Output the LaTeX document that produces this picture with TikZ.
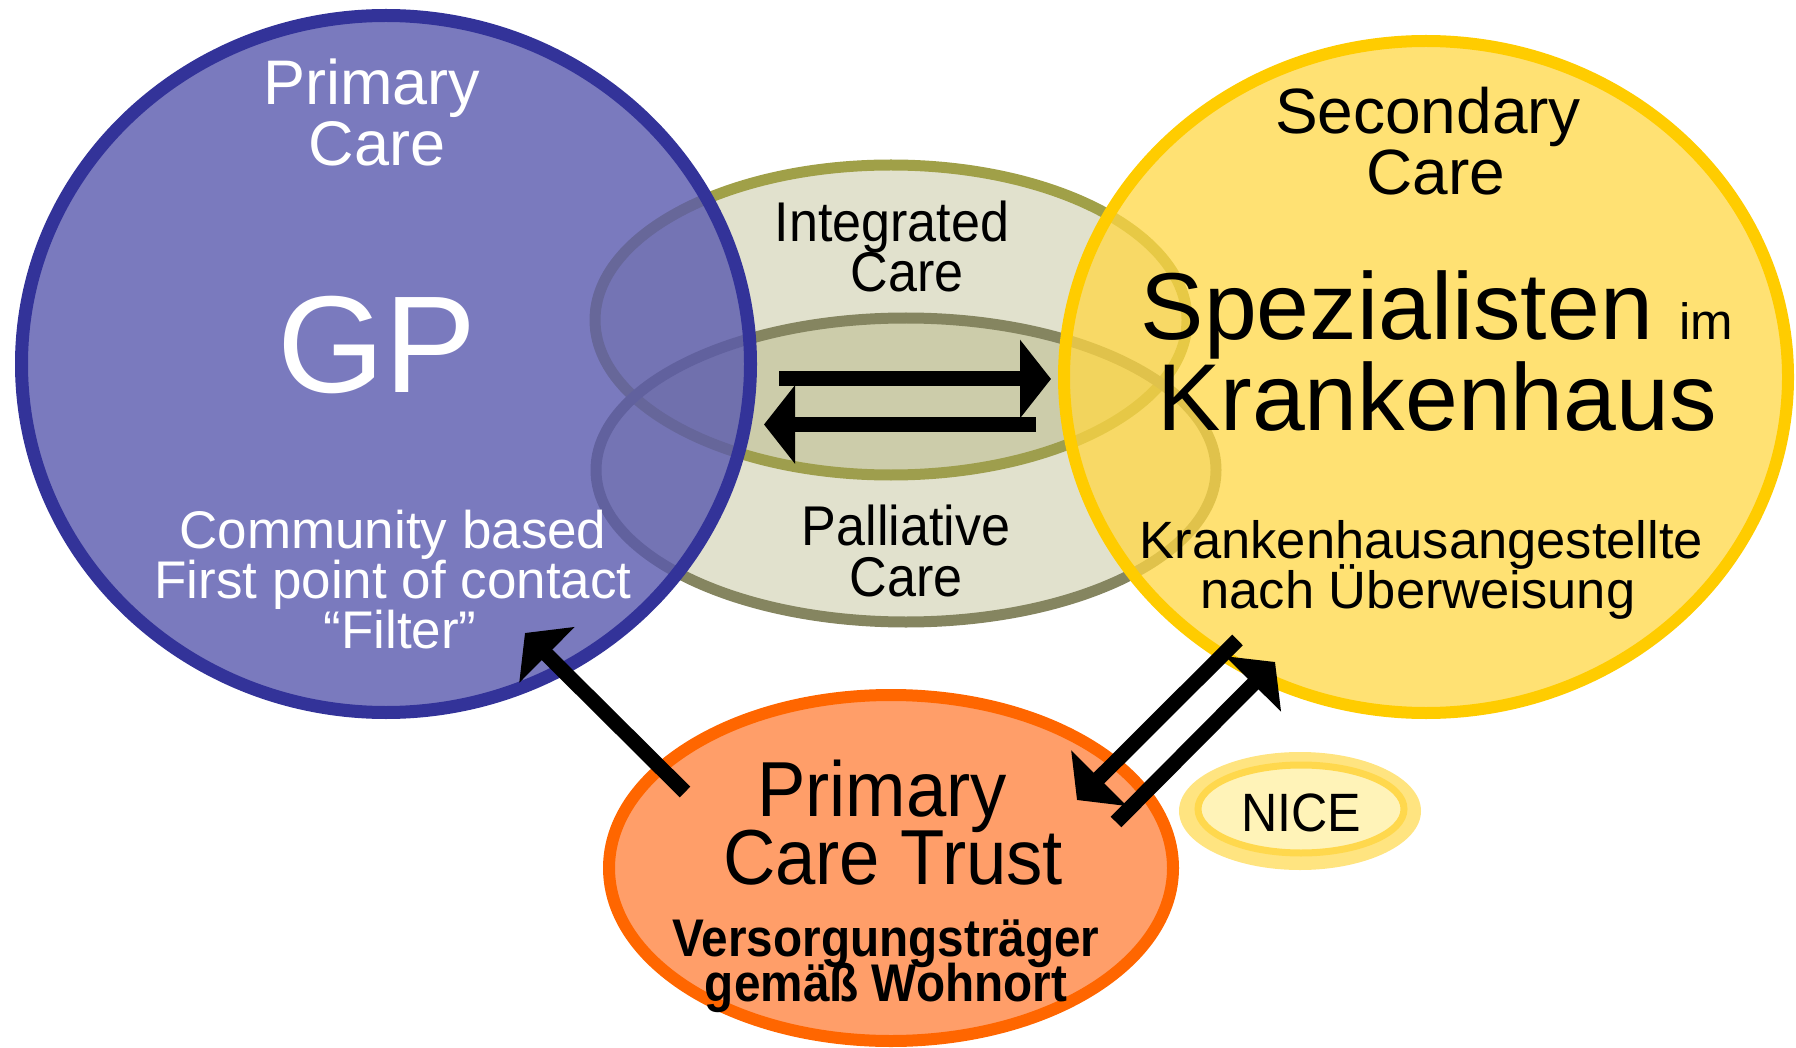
\documentclass[tikz,border=0pt]{standalone}
\usepackage{fontspec}
\setmainfont{Liberation Sans}
\newfontfamily\narrowfont[FakeStretch=0.93]{Liberation Sans}
\newfontfamily\narrowbfont[FakeStretch=0.9]{Liberation Sans}
\usetikzlibrary{shapes.geometric,arrows.meta}
\definecolor{blueline}{RGB}{51,51,153}
\definecolor{bluefill}{RGB}{89,89,174}
\definecolor{yelline}{RGB}{255,204,0}
\definecolor{yelfill}{RGB}{255,215,68}
\definecolor{oliveA}{RGB}{160,160,72}
\definecolor{oliveB}{RGB}{133,133,96}
\definecolor{olivefill}{RGB}{156,156,90}
\definecolor{orline}{RGB}{255,102,0}
\definecolor{orfill}{RGB}{255,158,105}
\definecolor{niceout}{RGB}{255,228,128}
\definecolor{nicering}{RGB}{255,216,77}
\definecolor{nicein}{RGB}{255,243,184}
\begin{document}
\begin{tikzpicture}[x=1pt,y=-1pt,
  blob/.style={ellipse, inner sep=0pt, outer sep=0pt},
  lbl/.style={anchor=base, inner sep=0pt, text depth=0pt},
  bigarrow/.style={line width=15pt, -{Triangle[length=31pt,width=77pt]}},
  fA/.style={font=\fontsize{#1pt}{#1pt}\selectfont},
  fN/.style={font=\narrowfont\fontsize{#1pt}{#1pt}\selectfont},
  fB/.style={font=\narrowbfont\bfseries\fontsize{#1pt}{#1pt}\selectfont},
]
\useasboundingbox (0,0) rectangle (1796,1048);
% olive ellipses
\node[blob, minimum width=592pt, minimum height=310pt, draw=oliveA, line width=11pt,
  fill=olivefill, fill opacity=0.3] (integ) at (891,320) {};
\node[blob, minimum width=620pt, minimum height=304pt, draw=oliveB, line width=11pt,
  fill=olivefill, fill opacity=0.3] (palli) at (906,470) {};
% primary care
\node[blob, minimum width=729pt, minimum height=697pt, draw=blueline, line width=13pt,
  fill=bluefill, fill opacity=0.8] (primary) at (386,364) {};
% secondary care
\node[blob, minimum width=724pt, minimum height=672pt, draw=yelline, line width=12pt,
  fill=yelfill, fill opacity=0.75] (secondary) at (1426,377) {};
% primary care trust
\node[blob, minimum width=564pt, minimum height=346pt, draw=orline, line width=12pt,
  fill=orfill] (pct) at (891,868) {};
% NICE
\node[blob, minimum width=242pt, minimum height=118pt, fill=niceout] (nice) at (1300,811) {};
\node[blob, minimum width=206pt, minimum height=88pt, draw=nicering, line width=7pt,
  fill=nicein] (nicein) at (1301,809) {};
% arrow end points
\coordinate (gptail) at (685,792);
\coordinate (gptip) at (525,633);
\coordinate (atail) at (1237.5,640);
\coordinate (atip) at (1077,800);
\coordinate (btail) at (1116,822);
\coordinate (btip) at (1275,662);
\coordinate (rtail) at (779,379);
\coordinate (rtip) at (1051,379);
\coordinate (ltail) at (1036,424.5);
\coordinate (ltip) at (764,424.5);
\draw[bigarrow] (gptail) -- (gptip);
\draw[bigarrow] (atail) -- (atip);
\draw[bigarrow] (btail) -- (btip);
\draw[bigarrow] (rtail) -- (rtip);
\draw[bigarrow] (ltail) -- (ltip);
% texts
\node[lbl, fA=63, text=white] (pc1) at (372,105) {Primary};
\node[lbl, fA=63, text=white] (pc2) at (377,166) {Care};
\node[lbl, fA=138, text=white] (gp) at (377,392) {GP};
\node[lbl, fA=53, text=white] (cb1) at (393,548) {Community based};
\node[lbl, fA=53, text=white] (cb2) at (393,598) {First point of contact};
\node[lbl, fA=53, text=white] (cb3) at (400,648) {“Filter”};
\node[lbl, fN=56] (ic1) at (892,242) {Integrated};
\node[lbl, fN=56] (ic2) at (907,292) {Care};
\node[lbl, fN=56] (pa1) at (906,545) {Palliative};
\node[lbl, fN=56] (pa2) at (906,596) {Care};
\node[lbl, fA=64] (sc1) at (1428,134) {Secondary};
\node[lbl, fA=64] (sc2) at (1436,195) {Care};
\node[lbl, fA=95] (sp1) at (1437,340) {Spezialisten {\fontsize{51pt}{51pt}\selectfont im}};
\node[lbl, fA=95] (sp2) at (1437,430) {Krankenhaus};
\node[lbl, fA=52.5] (kh1) at (1421.5,558) {Krankenhausangestellte};
\node[lbl, fA=52.5] (kh2) at (1418,608) {nach Überweisung};
\node[lbl, fN=78] (pt1) at (882,816) {Primary};
\node[lbl, fN=78] (pt2) at (893,884) {Care Trust};
\node[lbl, fB=53] (vs1) at (886,956) {Versorgungsträger};
\node[lbl, fB=53] (vs2) at (886,1001) {gemäß Wohnort};
\node[lbl, fN=54] (nicet) at (1301,831) {NICE};
\end{tikzpicture}
\end{document}
